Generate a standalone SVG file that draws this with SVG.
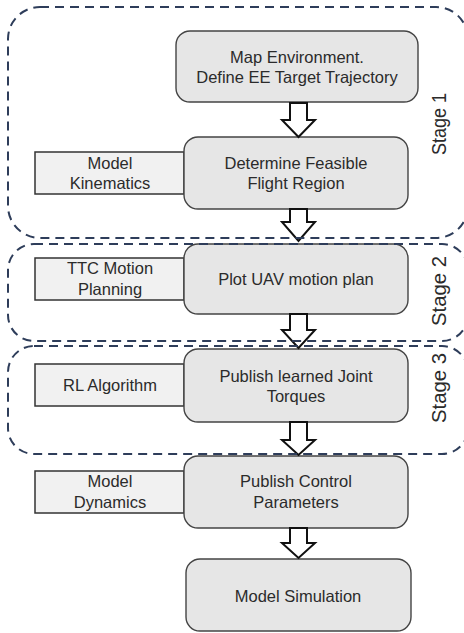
<svg xmlns="http://www.w3.org/2000/svg" width="464" height="633" viewBox="0 0 464 633">
<style>
.box{fill:#e6e6e6;stroke:#444;stroke-width:1.4}
.side{fill:#f1f1f1;stroke:#333;stroke-width:1.5}
.arr{fill:#fff;stroke:#111;stroke-width:2;stroke-linejoin:miter}
.stage{fill:none;stroke:#2e3d5a;stroke-width:2;stroke-dasharray:9 6}
text{font-family:"Liberation Sans",Arial,sans-serif;fill:#2b2b2b;font-size:16.5px;text-anchor:middle}
.st{font-size:21px}
</style>
<rect width="464" height="633" fill="#fff"/>
<g id="side-kinematics"><rect class="side" x="35" y="152" width="149" height="42"/><text x="110" y="169">Model</text><text x="110" y="189">Kinematics</text></g>
<g id="side-ttc"><rect class="side" x="35" y="258" width="149" height="42"/><text x="110" y="274">TTC Motion</text><text x="110" y="295">Planning</text></g>
<g id="side-rl"><rect class="side" x="35" y="364" width="149" height="42"/><text x="110" y="391">RL Algorithm</text></g>
<g id="side-dynamics"><rect class="side" x="35" y="471" width="149" height="42"/><text x="110" y="487">Model</text><text x="110" y="508">Dynamics</text></g>
<g id="map"><rect class="box" x="176" y="31" width="242" height="71" rx="14"/><text x="297" y="63">Map Environment.</text><text x="297" y="83">Define EE Target Trajectory</text></g>
<g id="feasible"><rect class="box" x="184" y="137" width="224" height="72" rx="14"/><text x="296" y="169">Determine Feasible</text><text x="296" y="189">Flight Region</text></g>
<g id="plot"><rect class="box" x="184" y="244" width="224" height="70" rx="14"/><text x="296" y="285">Plot UAV motion plan</text></g>
<g id="torques"><rect class="box" x="184" y="349" width="224" height="73" rx="14"/><text x="296" y="382">Publish learned Joint</text><text x="296" y="402">Torques</text></g>
<g id="control"><rect class="box" x="184" y="456" width="224" height="72" rx="14"/><text x="296" y="487">Publish Control</text><text x="296" y="508">Parameters</text></g>
<g id="simulation"><rect class="box" x="186" y="559" width="225" height="72" rx="14"/><text x="298" y="602">Model Simulation</text></g>
<g id="connectors">
<path class="arr" d="M290,103 L307,103 L307,120 L315,120 L298.5,137 L282,120 L290,120 Z"/>
<path class="arr" d="M290,209 L307,209 L307,222 L315,222 L298.5,241 L282,222 L290,222 Z"/>
<path class="arr" d="M290,314 L307,314 L307,330 L315,330 L298.5,348 L282,330 L290,330 Z"/>
<path class="arr" d="M290,422 L307,422 L307,440 L315,440 L298.5,455 L282,440 L290,440 Z"/>
<path class="arr" d="M290,528 L307,528 L307,543 L315,543 L298.5,558 L282,543 L290,543 Z"/>
</g>
<g id="stage1"><rect class="stage" x="8" y="7" width="460" height="231" rx="32"/><text class="st" transform="translate(446,124) rotate(-90)" textLength="62" lengthAdjust="spacingAndGlyphs">Stage 1</text></g>
<g id="stage2"><rect class="stage" x="8" y="244" width="460" height="97" rx="26"/><text class="st" transform="translate(446,291) rotate(-90)" textLength="70" lengthAdjust="spacingAndGlyphs">Stage 2</text></g>
<g id="stage3"><rect class="stage" x="8" y="346" width="460" height="108" rx="26"/><text class="st" transform="translate(446,388) rotate(-90)" textLength="70" lengthAdjust="spacingAndGlyphs">Stage 3</text></g>
</svg>
